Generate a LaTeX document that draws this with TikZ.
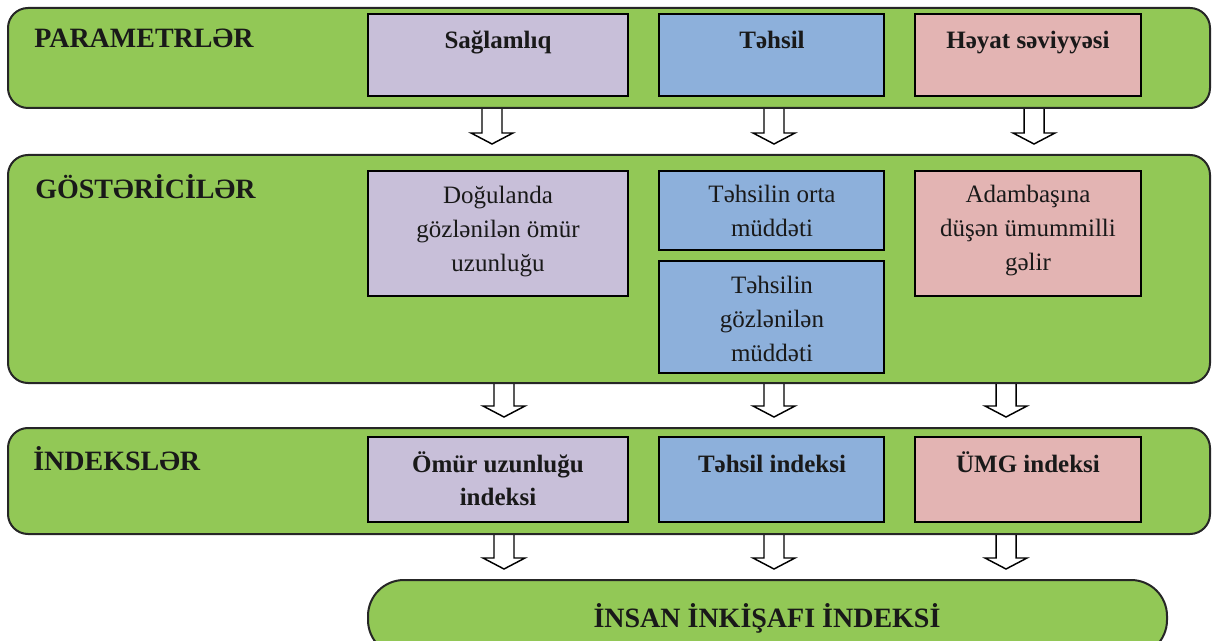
\documentclass[tikz,border=0pt]{standalone}
\usepackage{fontspec}
\setmainfont{Liberation Serif}
\usetikzlibrary{fit,calc}

\definecolor{bandgreen}{RGB}{146,200,86}
\definecolor{lilac}{RGB}{200,191,217}
\definecolor{skyblue}{RGB}{141,176,219}
\definecolor{rose}{RGB}{227,180,179}

% hollow block arrow from node #1 down to node #2 at column x=#3
\newcommand{\blockarrow}[3]{%
  \draw[hollow] ($(#1.south -| #3,0)+(-10,0)$) -- ($(#2.north -| #3,0)+(-10,-21)$)
    -- ($(#2.north -| #3,0)+(-21,-21)$) -- ($(#2.north -| #3,0)+(0,-10)$)
    -- ($(#2.north -| #3,0)+(21,-21)$) -- ($(#2.north -| #3,0)+(10,-21)$)
    -- ($(#1.south -| #3,0)+(10,0)$);}

\begin{document}
\begin{tikzpicture}[x=0.75pt, y=-0.75pt,
  band/.style={draw=black!85, line width=1.5pt, fill=bandgreen, rounded corners=15pt, inner sep=0pt},
  cell/.style={draw=black, line width=2.2pt, inner sep=0pt},
  title/.style={font=\bfseries\fontsize{21}{24}\selectfont, text=black!90, inner sep=0pt, anchor=base west},
  celltext/.style={font=\fontsize{18.75}{25.5}\selectfont, text=black!90, align=center, inner sep=0pt, anchor=base},
  hollow/.style={draw=black, line width=1.1pt, line join=miter}]
   \useasboundingbox (0,0) rectangle (1212,641);

   % bands
   \node[band, fit={(8,8) (1210,108)}] (par) {};
   \node[band, fit={(8,155) (1210,383)}] (gos) {};
   \node[band, fit={(8,428) (1210,534)}] (ind) {};
   \node[band, rounded corners=27pt, fit={(368,580) (1167,656)}] (hdi) {};

   \node[title] (partit) at (34,48) {PARAMETRLƏR};
   \node[title] (gostit) at (35,199) {GÖSTƏRİCİLƏR};
   \node[title] (indtit) at (33,470) {İNDEKSLƏR};
   \node[title, anchor=base] (hditit) at (767,627) {İNSAN İNKİŞAFI İNDEKSİ};

   % parameters
   \node[cell, fill=lilac, fit={(368,14) (628,96)}] (sag) {};
   \node[cell, fill=skyblue, fit={(659,14) (884,96)}] (tah) {};
   \node[cell, fill=rose, fit={(915,14) (1141,96)}] (hay) {};
   \node[celltext, font=\bfseries\fontsize{18.75}{25.5}\selectfont] (sagtext) at (498,49) {Sağlamlıq};
   \node[celltext, font=\bfseries\fontsize{18.75}{25.5}\selectfont] (tahtext) at (772,49) {Təhsil};
   \node[celltext, font=\bfseries\fontsize{18.75}{25.5}\selectfont] (haytext) at (1028,49) {Həyat səviyyəsi};

   % indicators (base = last line)
   \node[cell, fill=lilac, fit={(368,171) (628,296)}] (dog) {};
   \node[cell, fill=skyblue, fit={(659,171) (884,250)}] (orta) {};
   \node[cell, fill=skyblue, fit={(659,261) (884,373)}] (gozl) {};
   \node[cell, fill=rose, fit={(915,171) (1141,296)}] (adam) {};
   \node[celltext] (dogtext) at (498,272) {Doğulanda\\gözlənilən ömür\\uzunluğu};
   \node[celltext] (ortatext) at (772,237) {Təhsilin orta\\müddəti};
   \node[celltext] (gozltext) at (772,361) {Təhsilin\\gözlənilən\\müddəti};
   \node[celltext] (adamtext) at (1028,271) {Adambaşına\\düşən ümummilli\\gəlir};

   % indices
   \node[cell, fill=lilac, fit={(368,437) (628,522)}] (omur) {};
   \node[cell, fill=skyblue, fit={(659,437) (884,522)}] (tind) {};
   \node[cell, fill=rose, fit={(915,437) (1141,522)}] (umg) {};
   \node[celltext, font=\bfseries\fontsize{18.75}{24.75}\selectfont] (omurtext) at (498,505) {Ömür uzunluğu\\indeksi};
   \node[celltext, font=\bfseries\fontsize{18.75}{25.5}\selectfont] (tindtext) at (772,472) {Təhsil indeksi};
   \node[celltext, font=\bfseries\fontsize{18.75}{25.5}\selectfont] (umgtext) at (1028,472) {ÜMG indeksi};

   % arrows
   \blockarrow{par}{gos}{492}
   \blockarrow{par}{gos}{774}
   \blockarrow{par}{gos}{1034}
   \blockarrow{gos}{ind}{504}
   \blockarrow{gos}{ind}{774}
   \blockarrow{gos}{ind}{1006}
   \blockarrow{ind}{hdi}{504}
   \blockarrow{ind}{hdi}{774}
   \blockarrow{ind}{hdi}{1006}
\end{tikzpicture}
\end{document}
